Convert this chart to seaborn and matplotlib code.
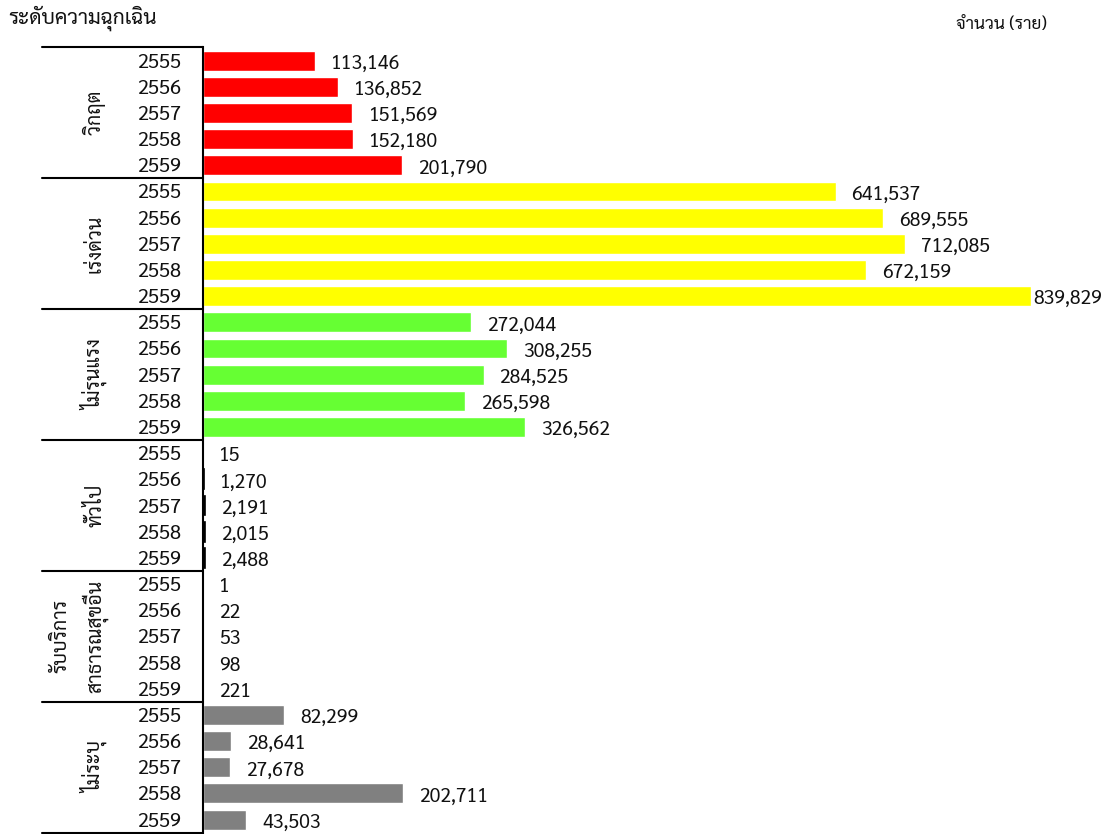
import matplotlib
matplotlib.use("Agg")
import matplotlib.pyplot as plt
import pandas as pd
import seaborn as sns

# data
levels = ["วิกฤต", "เร่งด่วน", "ไม่รุนแรง", "ทั่วไป", "รับบริการ\nสาธารณสุขอื่น", "ไม่ระบุ"]
years = ["2555", "2556", "2557", "2558", "2559"]
critical = [113146, 136852, 151569, 152180, 201790]
urgent = [641537, 689555, 712085, 672159, 839829]
non_urgent = [272044, 308255, 284525, 265598, 326562]
general = [15, 1270, 2191, 2015, 2488]
other_service = [1, 22, 53, 98, 221]
unspecified = [82299, 28641, 27678, 202711, 43503]
level_colors = ["#FF0000", "#FFFF00", "#66FF33", "#000000", "#000000", "#808080"]

series = [critical, urgent, non_urgent, general, other_service, unspecified]
rows = []
for lvl, vals in zip(levels, series):
    for yr, v in zip(years, vals):
        rows.append({"row": f"{lvl}-{yr}", "level": lvl, "year": yr, "value": v})
df = pd.DataFrame(rows)

sns.set_style("white")
plt.rcParams["font.family"] = ["Sarabun", "DejaVu Sans"]
plt.rcParams["text.color"] = "#111111"

fig = plt.figure(figsize=(11.09, 8.34), dpi=100)
ax = fig.add_axes([203 / 1109, 0.0, (1031 - 203) / 1109, (834 - 47.5) / 834])

sns.barplot(data=df, x="value", y="row", hue="level", palette=level_colors,
            dodge=False, width=0.76, orient="h", legend=False, saturation=1, ax=ax)

# tiny black bars get a thin edge so they still show, as in the original
for p in ax.patches:
    if tuple(p.get_facecolor()[:3]) == (0.0, 0.0, 0.0):
        p.set_edgecolor("black")
        p.set_linewidth(1.2)

ax.set_xlim(0, 839829)
ax.set_ylim(len(df) - 0.5 + 0.05, -0.5)
ax.set_xticks([])
ax.set_yticks(range(len(df)))
ax.set_yticklabels(df["year"], fontsize=14.5, color="#111111")
ax.tick_params(axis="y", length=0, pad=16)
ax.set_xlabel("")
ax.set_ylabel("")
for s in ["top", "right", "bottom"]:
    ax.spines[s].set_visible(False)
ax.spines["left"].set_color("black")
ax.spines["left"].set_linewidth(1.5)

# value labels (the longest one is pulled in so it stays on the page)
vmax = df["value"].max()
for i, v in enumerate(df["value"]):
    dx = 2 if v == vmax else 16
    ax.annotate(f"{v:,}", xy=(v, i), xytext=(dx, -3), textcoords="offset pixels",
                ha="left", va="center", fontsize=14, annotation_clip=False)

# group separators and group labels
trans = ax.get_yaxis_transform()
x0 = (42 - 203) / (1031 - 203)
for g in range(len(levels) + 1):
    y = g * 5 - 0.5
    ax.plot([x0, 0], [y, y], color="black", lw=1.5, transform=trans, clip_on=False)
for g, lvl in enumerate(levels):
    xc = 80 if "\n" in lvl else 95
    ax.text((xc - 203) / (1031 - 203), g * 5 + 2, lvl, transform=trans,
            rotation=90, ha="center", va="center", fontsize=14,
            linespacing=1.6, multialignment="center")

fig.text(8 / 1109, 1 - 18 / 834, "ระดับความฉุกเฉิน", ha="left", va="center", fontsize=15)
fig.text(1047 / 1109, 1 - 25 / 834, "จำนวน (ราย)", ha="right", va="center", fontsize=12.5)

fig.savefig("out.png", dpi=100)
